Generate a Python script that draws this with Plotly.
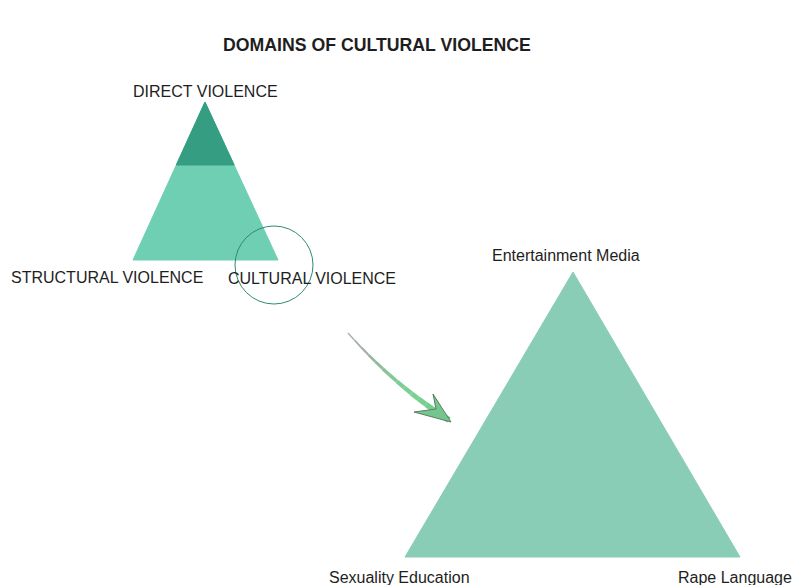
import plotly.graph_objects as go

# Diagram geometry (pixel space of a 799x585 canvas)
small_tri_x = [133, 205, 278]
small_tri_y = [260, 102, 260]
top_cut_y = 165
big_tri_x = [405, 573, 740]
big_tri_y = [557, 272, 557]

small_labels = ["DIRECT VIOLENCE", "STRUCTURAL VIOLENCE", "CULTURAL VIOLENCE"]
small_label_x = [205, 107, 312]
small_label_y = [91, 277, 278]

big_labels = ["Entertainment Media", "Sexuality Education", "Rape Language"]
big_label_x = [566, 399, 735]
big_label_y = [255, 577, 577]

title = "DOMAINS OF CULTURAL VIOLENCE"
title_x, title_y = 377, 45

circle_center = (274, 265)
circle_r = 39

arrow_path_x = [348, 449]
arrow_path_y = [333, 420]
arrow_head_x = [451, 414, 436, 433]
arrow_head_y = [422, 412, 409, 394]

W, H = 799, 585

def edge_x(y, x0, y0, x1, y1):
    return x0 + (x1 - x0) * (y - y0) / (y1 - y0)

fig = go.Figure()

# big triangle
fig.add_trace(go.Scatter(x=big_tri_x + [big_tri_x[0]], y=big_tri_y + [big_tri_y[0]],
                         fill="toself", fillcolor="#8acdb6", mode="lines",
                         line=dict(color="#8acdb6", width=1), hoverinfo="skip"))

# small triangle light part
fig.add_trace(go.Scatter(x=small_tri_x + [small_tri_x[0]], y=small_tri_y + [small_tri_y[0]],
                         fill="toself", fillcolor="#6fcfb3", mode="lines",
                         line=dict(color="#6fcfb3", width=1), hoverinfo="skip"))
# dark top part
lx = edge_x(top_cut_y, small_tri_x[1], small_tri_y[1], small_tri_x[0], small_tri_y[0])
rx = edge_x(top_cut_y, small_tri_x[1], small_tri_y[1], small_tri_x[2], small_tri_y[2])
fig.add_trace(go.Scatter(x=[lx, small_tri_x[1], rx, lx], y=[top_cut_y, small_tri_y[1], top_cut_y, top_cut_y],
                         fill="toself", fillcolor="#359e82", mode="lines",
                         line=dict(color="#359e82", width=1), hoverinfo="skip"))

# circle
cx, cy = circle_center
fig.add_shape(type="circle", xref="x", yref="y",
              x0=cx - circle_r, x1=cx + circle_r, y0=cy - circle_r, y1=cy + circle_r,
              line=dict(color="#2f8a72", width=1))

# arrow (slightly curved, grey to green)
x0, x1 = arrow_path_x
y0, y1 = arrow_path_y
qx, qy = 395, 386
segs = 14
cols = ["#b0b0b0", "#a8aea8", "#a0b0a2", "#98b59e", "#90bc9b", "#88c398",
        "#82c996", "#7ecd94", "#7bd093", "#79d192", "#77d091", "#75ce90",
        "#72cb8e", "#70c88c"]
pts = []
for i in range(segs + 1):
    t = i / segs
    bx = (1 - t) ** 2 * x0 + 2 * (1 - t) * t * qx + t ** 2 * x1
    by = (1 - t) ** 2 * y0 + 2 * (1 - t) * t * qy + t ** 2 * y1
    pts.append((bx, by))
for i in range(segs):
    w = 1.5 + 5.0 * i / segs
    fig.add_shape(type="line", xref="x", yref="y",
                  x0=pts[i][0], y0=pts[i][1], x1=pts[i + 1][0], y1=pts[i + 1][1],
                  line=dict(color=cols[i], width=w))
# arrow head
hp = "M " + " L ".join(f"{hx} {hy}" for hx, hy in zip(arrow_head_x, arrow_head_y)) + " Z"
fig.add_shape(type="path", xref="x", yref="y", path=hp,
              fillcolor="#74c68e", line=dict(color="#5d7d66", width=1))

# labels
FONT = "Liberation Sans, Arial"
for t, x, y in zip(small_labels, small_label_x, small_label_y):
    fig.add_annotation(x=x, y=y, text=t, showarrow=False, xref="x", yref="y",
                       font=dict(family=FONT, size=16, color="#1e1e1e"))
for t, x, y in zip(big_labels, big_label_x, big_label_y):
    fig.add_annotation(x=x, y=y, text=t, showarrow=False, xref="x", yref="y",
                       font=dict(family=FONT, size=16, color="#1e1e1e"))

fig.add_annotation(x=title_x, y=title_y, text=f"<b>{title}</b>", showarrow=False, xref="x", yref="y",
                   font=dict(family=FONT, size=17.7, color="#1e1e1e"))

fig.update_layout(width=W, height=H, margin=dict(l=0, r=0, t=0, b=0),
                  plot_bgcolor="white", paper_bgcolor="white", showlegend=False,
                  xaxis=dict(range=[0, W], visible=False, fixedrange=True),
                  yaxis=dict(range=[H, 0], visible=False, fixedrange=True))

fig.write_html("out.html", config={"displayModeBar": False},
               post_script="document.body.style.margin='0';document.body.style.overflow='hidden';")
